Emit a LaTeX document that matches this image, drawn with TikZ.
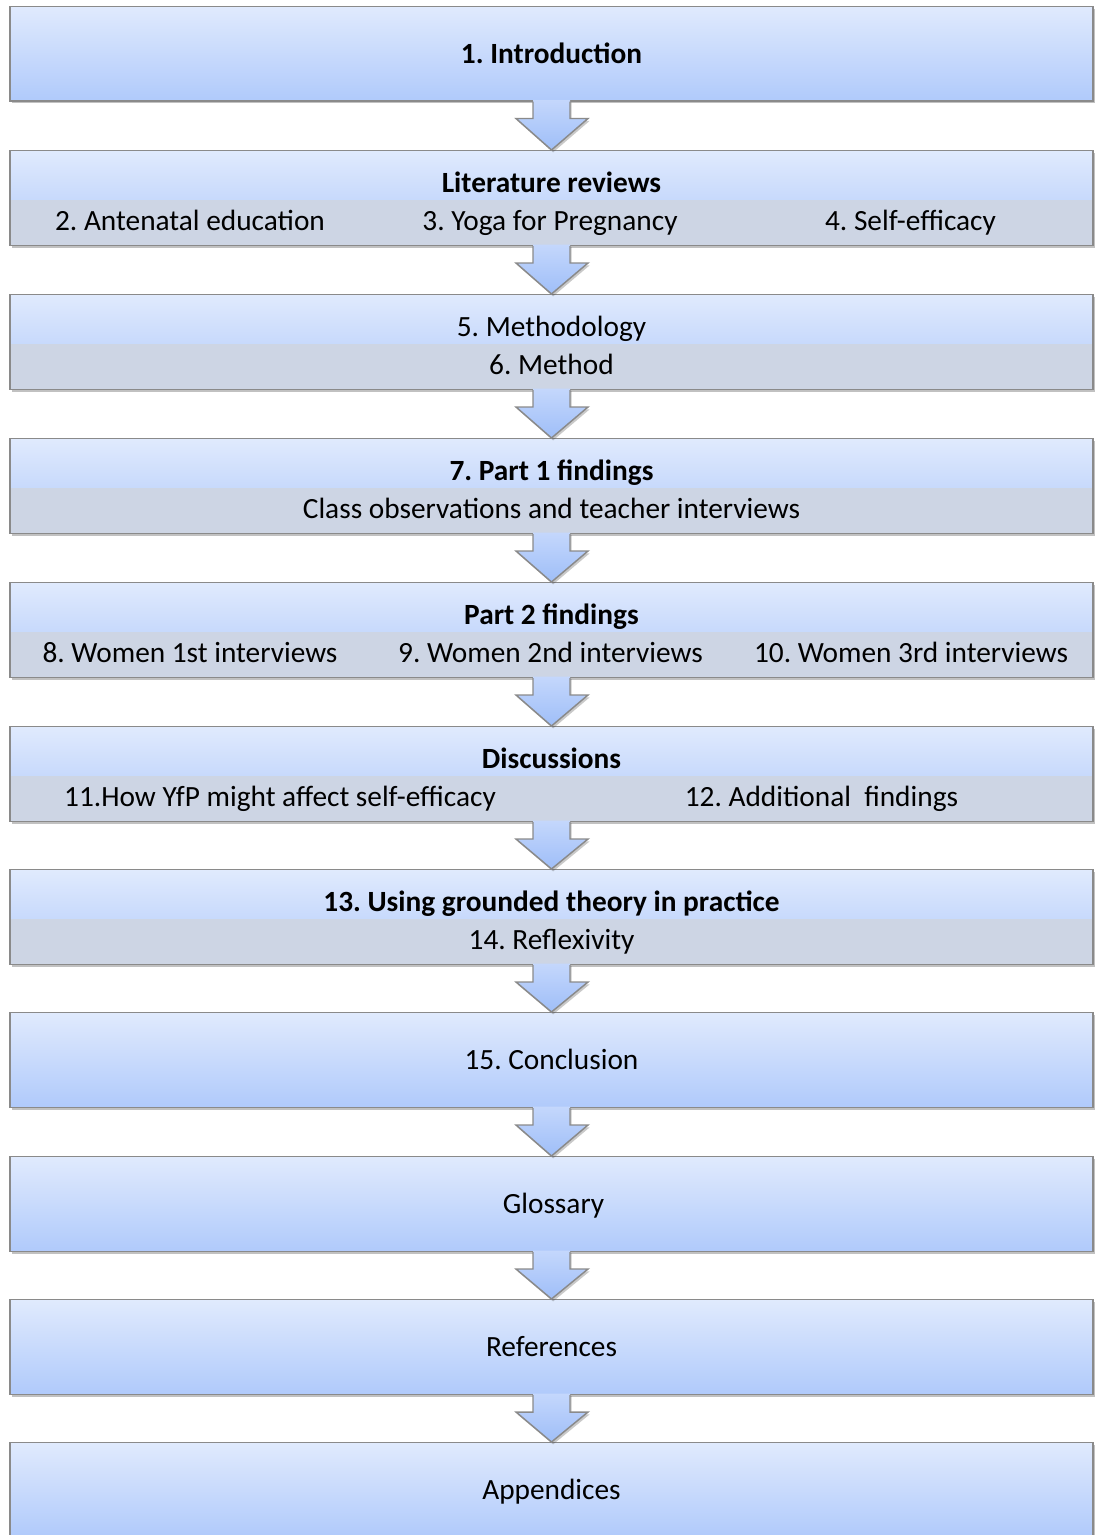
\documentclass[tikz,border=0pt]{standalone}
\usepackage{fontspec}
\setmainfont{Carlito}
\frenchspacing
\usetikzlibrary{calc,shadows}
\definecolor{boxtop}{HTML}{E0EAFD}
\definecolor{boxbot}{HTML}{B0CAFB}
\definecolor{bandgrey}{HTML}{CDD5E4}
\definecolor{edgegrey}{HTML}{8A8A8A}
\definecolor{arrtop}{HTML}{C4D7FC}
\definecolor{arrbot}{HTML}{9FBEF8}
\begin{document}
\begin{tikzpicture}[x=0.75pt,y=-0.75pt,
  every node/.style={font=\fontsize{22pt}{26pt}\selectfont, text=black,
    text height=14.3pt, text depth=0pt, inner sep=0pt},
  stagebox/.style={rectangle, minimum width=812.25pt, minimum height=70.9pt,
    inner sep=0pt, top color=boxtop, bottom color=boxbot,
    draw=edgegrey, line width=1.1pt,
    drop shadow={shadow xshift=1.2pt, shadow yshift=-1.8pt, opacity=0.35, fill=black!70}},
  bandbox/.style={stagebox, path picture={
    \fill[bandgrey] ($(path picture bounding box.west)+(0,2)$) rectangle (path picture bounding box.south east);}},
  title/.style={font=\fontsize{22pt}{26pt}\selectfont\bfseries},
  arrowfill/.style={top color=arrtop, bottom color=arrbot,
    drop shadow={shadow xshift=1.2pt, shadow yshift=-1.8pt, opacity=0.3, fill=black!70}},
  arrowedge/.style={draw=edgegrey, line width=1.1pt, line join=miter}]
\useasboundingbox (0,0) rectangle (1097,1535);

% stage boxes
\node[stagebox] (b1)  at (551.5,53.5) {};
\node[bandbox]  (b2)  at (551.5,198) {};
\node[bandbox]  (b3)  at (551.5,342) {};
\node[bandbox]  (b4)  at (551.5,486) {};
\node[bandbox]  (b5)  at (551.5,630) {};
\node[bandbox]  (b6)  at (551.5,774) {};
\node[bandbox]  (b7)  at (551.5,917) {};
\node[stagebox] (b8)  at (551.5,1060) {};
\node[stagebox] (b9)  at (551.5,1204) {};
\node[stagebox] (b10) at (551.5,1347) {};
\node[stagebox] (b11) at (551.5,1490) {};

% block arrows between consecutive stages
\foreach \a/\b in {b1/b2,b2/b3,b3/b4,b4/b5,b5/b6,b6/b7,b7/b8,b8/b9,b9/b10,b10/b11}{
  \path[arrowfill] ($(\a.south)+(-18.5,-1.5)$) -- ($(\a.south)+(-18.5,17)$)
    -- ($(\a.south)+(-35.5,17)$) -- (\b.north) -- ($(\a.south)+(36.5,17)$)
    -- ($(\a.south)+(18.5,17)$) -- ($(\a.south)+(18.5,-1.5)$) -- cycle;
  \draw[arrowedge] ($(\a.south)+(-18.5,0)$) -- ($(\a.south)+(-18.5,17)$)
    -- ($(\a.south)+(-35.5,17)$) -- (\b.north) -- ($(\a.south)+(36.5,17)$)
    -- ($(\a.south)+(18.5,17)$) -- ($(\a.south)+(18.5,0)$);
}

% labels
\node[title] (t1) at (b1) {1. Introduction};

\node[title] (t2) at ($(b2.north)+(0,33)$) {Literature reviews};
\node (t2a) at ($(b2.north)+(-361.5,71)$) {2. Antenatal education};
\node (t2b) at ($(b2.north)+(-1.5,71)$) {3. Yoga for Pregnancy};
\node (t2c) at ($(b2.north)+(359,71)$) {4. Self-efficacy};

\node (t3) at ($(b3.north)+(0,33)$) {5. Methodology};
\node (t3a) at ($(b3.north)+(0,71)$) {6. Method};

\node[title] (t4) at ($(b4.north)+(0,33)$) {7. Part 1 findings};
\node (t4a) at ($(b4.north)+(0,71)$) {Class observations and teacher interviews};

\node[title] (t5) at ($(b5.north)+(0,33)$) {Part 2 findings};
\node (t5a) at ($(b5.north)+(-361.5,71)$) {8. Women 1st interviews};
\node (t5b) at ($(b5.north)+(-1,71)$) {9. Women 2nd interviews};
\node (t5c) at ($(b5.north)+(359.5,71)$) {10. Women 3rd interviews};

\node[title] (t6) at ($(b6.north)+(0,33)$) {Discussions};
\node (t6a) at ($(b6.north)+(-271.5,71)$) {11.How YfP might affect self-efficacy};
\node (t6b) at ($(b6.north)+(270,71)$) {12. Additional\ \ findings};

\node[title] (t7) at ($(b7.north)+(0,33)$) {13. Using grounded theory in practice};
\node (t7a) at ($(b7.north)+(0,71)$) {14. Reflexivity};

\node (t8) at (b8) {15. Conclusion};
\node (t9) at ($(b9)+(2,0)$) {Glossary};
\node (t10) at (b10) {References};
\node (t11) at (b11) {Appendices};
\end{tikzpicture}
\end{document}
